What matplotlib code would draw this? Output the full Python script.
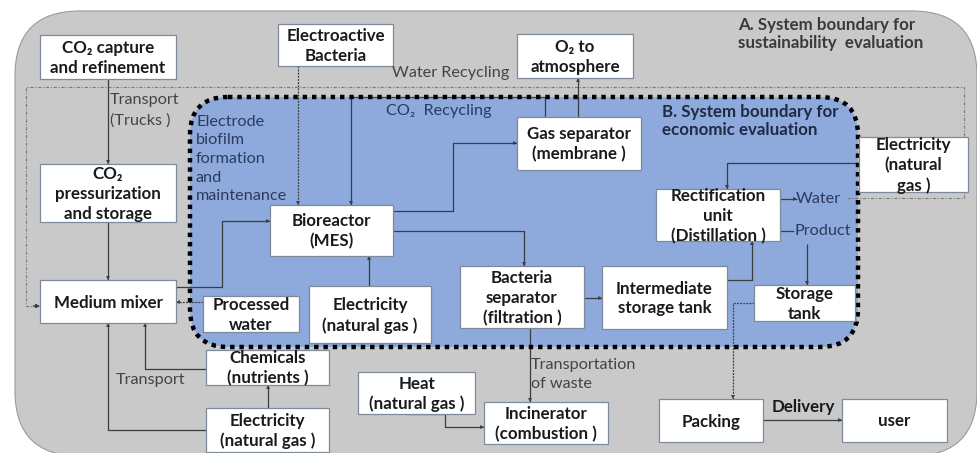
import matplotlib
matplotlib.use("Agg")
import matplotlib.pyplot as plt
from matplotlib.patches import FancyBboxPatch, Rectangle

plt.rcParams['font.family'] = ['Lato', 'DejaVu Sans']

# ---------------- data (texts of the diagram) ----------------
box_labels = [
    "CO\u2082 capture\nand refinement",
    "Electroactive\nBacteria",
    "O\u2082 to\natmosphere",
    "CO\u2082\npressurization\nand storage",
    "Medium mixer",
    "Bioreactor\n(MES)",
    "Gas separator\n(membrane )",
    "Electricity\n(natural\ngas )",
    "Rectification\nunit\n(Distillation )",
    "Processed\nwater",
    "Electricity\n(natural gas )",
    "Bacteria\nseparator\n(filtration )",
    "Intermediate\nstorage tank",
    "Storage\ntank",
    "Chemicals\n(nutrients )",
    "Electricity\n(natural gas ) ",
    "Heat\n(natural gas )",
    "Incinerator\n(combustion )",
    "Packing",
    "user",
]
boundary_labels = ["A. System boundary for\nsustainability  evaluation",
                   "B. System boundary for\neconomic evaluation"]
flow_labels = ["Water Recycling", "CO\u2082  Recycling",
               "Electrode\nbiofilm\nformation\nand\nmaintenance",
               "Transport\n(Trucks )", "Transport", "Transportation\nof waste",
               "Water", "Product"]
delivery_label = "Delivery"

# ---------------- layout (pixel coordinates, y down) ----------------
rects = [
    (40, 35, 176, 79), (278, 24, 393, 66), (517, 34, 633, 78),
    (40, 164, 176, 222), (40, 280, 176, 323), (270, 205, 393, 256),
    (517, 117, 641, 170), (859, 137, 968, 192), (656, 189, 780, 241),
    (203, 296, 299, 332), (309, 286, 431, 343), (460, 266, 584, 328),
    (602, 266, 727, 329), (754, 285, 855, 321), (206, 350, 329, 385),
    (206, 408, 329, 452), (358, 372, 475, 414), (484, 402, 608, 444),
    (659, 399, 763, 442), (842, 399, 947, 442),
]

BOX_FS = 12.2
LAB_FS = 11.7

W, H = 978, 453
fig = plt.figure(figsize=(W / 100, H / 100), dpi=100)
ax = fig.add_axes([0, 0, 1, 1])
ax.set_xlim(0, W)
ax.set_ylim(H, 0)
ax.axis('off')

LC = '#3c3c3c'
# outer gray boundary
ax.add_patch(FancyBboxPatch((15, 11), 962, 445,
                            boxstyle="round,pad=0,rounding_size=65",
                            fc='#c9c9c9', ec='#9a9a9a', lw=0.8, zorder=0))
# blue boundary
ax.add_patch(FancyBboxPatch((190, 97), 668, 250,
                            boxstyle="round,pad=0,rounding_size=38",
                            fc='#8eaadc', ec='none', zorder=1))
ax.add_patch(FancyBboxPatch((190, 97), 668, 250,
                            boxstyle="round,pad=0,rounding_size=38",
                            fc='none', ec='black', lw=3.2,
                            ls=(0, (1, 1.1)), zorder=4))

# water recycling dash-dot loop
wr_x = [847, 964, 964, 26, 26, 36]
wr_y = [198, 198, 87, 87, 306, 306]
ax.plot(wr_x, wr_y, color='#7a7a7a', lw=0.8, ls=(0, (3, 1.5, 1, 1.5)), zorder=2)
ax.annotate('', xy=(40, 306), xytext=(33, 306),
            arrowprops=dict(arrowstyle='-|>', color=LC, lw=0.8,
                            mutation_scale=6, shrinkA=0, shrinkB=0), zorder=3)


def flow(xs, ys, ls='-', color=LC, lw=0.9):
    ax.plot(xs, ys, color=color, lw=lw, ls=ls, zorder=3, solid_capstyle='butt')
    ax.annotate('', xy=(xs[-1], ys[-1]), xytext=(xs[-2], ys[-2]),
                arrowprops=dict(arrowstyle='-|>', color=color, lw=0.01,
                                mutation_scale=7, shrinkA=0, shrinkB=0),
                zorder=3)


flow([108, 108], [79, 164])
flow([108, 108], [222, 280])
flow([298, 298], [66, 205], ls=(0, (1.5, 1)))
flow([545, 545, 351, 351], [117, 97, 97, 205])
flow([578, 578], [117, 78])
flow([393, 453, 453, 517], [211, 211, 143, 143])
flow([393, 524, 524], [231, 231, 266])
flow([176, 222, 222, 270], [287, 287, 221, 221])
flow([203, 176], [302, 302], ls=(0, (1.5, 1)))
flow([369, 369], [286, 256])
flow([206, 145, 145], [369, 369, 323])
flow([206, 108, 108], [430, 430, 323])
flow([268, 268], [408, 385])
flow([406, 445, 445, 484], [414, 414, 427, 427])
flow([530, 530], [328, 402])
flow([584, 602], [298, 298])
flow([727, 752, 752], [280, 280, 241])
flow([859, 727, 727], [163, 163, 189])
flow([780, 797], [199, 199])
ax.plot([780, 793], [231, 231], color=LC, lw=0.9, zorder=3)
flow([807, 807], [244, 285])
flow([754, 733, 733], [303, 303, 399], ls=(0, (1.5, 1)))
flow([763, 842], [420, 420])

# boxes
for label, (x0, y0, x1, y1) in zip(box_labels, rects):
    ax.add_patch(Rectangle((x0, y0), x1 - x0, y1 - y0, fc='white',
                           ec='#7d8a9a', lw=0.9, zorder=5))
    ax.text((x0 + x1) / 2, (y0 + y1) / 2 + 1, label.strip(), ha='center',
            va='center', fontsize=BOX_FS, fontweight='bold', color='#1a1a1a',
            linespacing=1.28, zorder=6)

# boundary labels
ax.text(738, 34, boundary_labels[0], ha='left', va='center', fontsize=12.2,
        fontweight='bold', color='#3a3a3a', linespacing=1.15, zorder=6)
ax.text(662, 121, boundary_labels[1], ha='left', va='center', fontsize=12.2,
        fontweight='bold', color='#1f2a44', linespacing=1.15, zorder=6)

# flow labels
gray = '#444444'
blue_t = '#2b3a5e'
ax.text(392, 73, flow_labels[0], ha='left', va='center', fontsize=LAB_FS, color=gray, zorder=6)
ax.text(386, 111, flow_labels[1], ha='left', va='center', fontsize=LAB_FS, color=blue_t, zorder=6)
ax.text(196, 159, flow_labels[2], ha='left', va='center', fontsize=LAB_FS, color=blue_t,
        linespacing=1.42, zorder=6)
ax.text(110, 110.5, flow_labels[3], ha='left', va='center', fontsize=LAB_FS, color=gray,
        linespacing=1.5, zorder=6)
ax.text(116, 380, flow_labels[4], ha='left', va='center', fontsize=LAB_FS, color=gray, zorder=6)
ax.text(531, 374.5, flow_labels[5], ha='left', va='center', fontsize=LAB_FS, color=gray,
        linespacing=1.4, zorder=6)
ax.text(796, 199, flow_labels[6], ha='left', va='center', fontsize=LAB_FS, color=blue_t, zorder=6)
ax.text(794, 231, flow_labels[7], ha='left', va='center', fontsize=LAB_FS, color=blue_t, zorder=6)
ax.text(772, 407, delivery_label, ha='left', va='center', fontsize=BOX_FS,
        fontweight='bold', color='#1a1a1a', zorder=6)

fig.savefig('out.png', dpi=100)
